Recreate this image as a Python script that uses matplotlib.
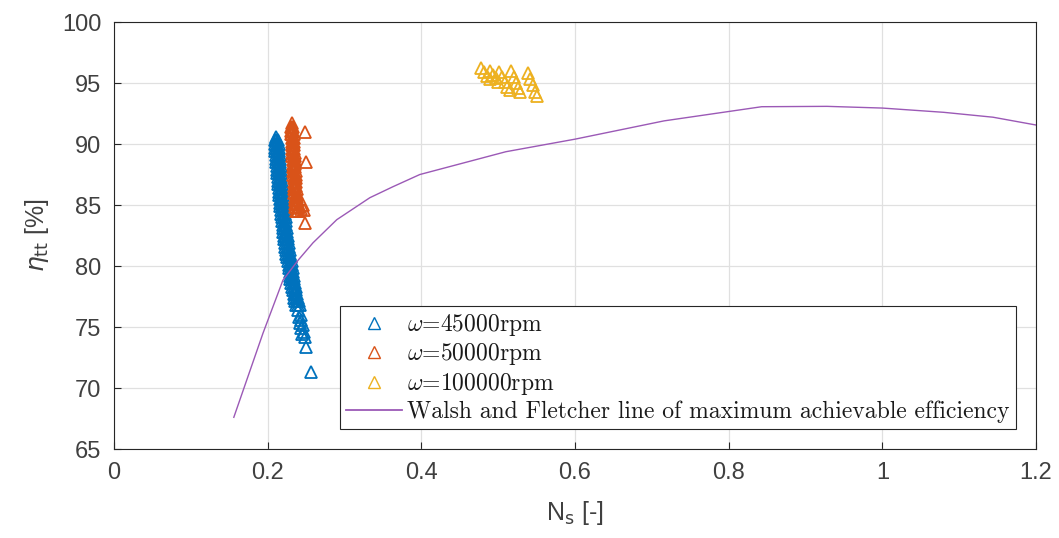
import numpy as np
import matplotlib
matplotlib.use("Agg")
import matplotlib.pyplot as plt
from matplotlib.font_manager import FontProperties
from matplotlib.lines import Line2D

# =========================
# data
# =========================

# omega = 45000 rpm : (Ns, eta_tt)
blue_points = [
    (0.2110, 90.6),
    (0.2090, 90.3), (0.2115, 90.3), (0.2140, 90.3),
    (0.2095, 90.0), (0.2120, 90.0), (0.2145, 90.0),
    (0.2098, 89.7), (0.2123, 89.7), (0.2148, 89.7),
    (0.2102, 89.4), (0.2127, 89.4), (0.2152, 89.4),
    (0.2105, 89.1), (0.2130, 89.1), (0.2155, 89.1),
    (0.2110, 88.8), (0.2135, 88.8), (0.2160, 88.8),
    (0.2115, 88.5), (0.2140, 88.5), (0.2165, 88.5),
    (0.2118, 88.2), (0.2143, 88.2), (0.2168, 88.2),
    (0.2122, 87.9), (0.2147, 87.9), (0.2172, 87.9),
    (0.2125, 87.6), (0.2150, 87.6), (0.2175, 87.6),
    (0.2130, 87.3), (0.2155, 87.3), (0.2180, 87.3),
    (0.2135, 87.0), (0.2160, 87.0), (0.2185, 87.0),
    (0.2138, 86.7), (0.2163, 86.7), (0.2188, 86.7),
    (0.2143, 86.4), (0.2168, 86.4), (0.2193, 86.4),
    (0.2148, 86.1), (0.2173, 86.1), (0.2198, 86.1),
    (0.2152, 85.8), (0.2177, 85.8), (0.2202, 85.8),
    (0.2155, 85.5), (0.2180, 85.5), (0.2205, 85.5),
    (0.2161, 85.2), (0.2186, 85.2), (0.2211, 85.2),
    (0.2167, 84.9), (0.2192, 84.9), (0.2217, 84.9),
    (0.2173, 84.6), (0.2198, 84.6), (0.2223, 84.6),
    (0.2179, 84.3), (0.2204, 84.3), (0.2229, 84.3),
    (0.2185, 84.0), (0.2210, 84.0), (0.2235, 84.0),
    (0.2191, 83.7), (0.2216, 83.7), (0.2241, 83.7),
    (0.2195, 83.4), (0.2220, 83.4), (0.2245, 83.4),
    (0.2199, 83.1), (0.2224, 83.1), (0.2249, 83.1),
    (0.2205, 82.8), (0.2230, 82.8), (0.2255, 82.8),
    (0.2210, 82.5), (0.2235, 82.5), (0.2260, 82.5),
    (0.2216, 82.2), (0.2241, 82.2), (0.2266, 82.2),
    (0.2222, 81.9), (0.2247, 81.9), (0.2272, 81.9),
    (0.2228, 81.6), (0.2253, 81.6), (0.2278, 81.6),
    (0.2236, 81.3), (0.2261, 81.3), (0.2286, 81.3),
    (0.2245, 81.0), (0.2270, 81.0), (0.2295, 81.0),
    (0.2255, 80.7), (0.2280, 80.7), (0.2305, 80.7),
    (0.2264, 80.4), (0.2289, 80.4), (0.2314, 80.4),
    (0.2272, 80.1), (0.2297, 80.1), (0.2322, 80.1),
    (0.2279, 79.8), (0.2304, 79.8), (0.2329, 79.8),
    (0.2285, 79.5), (0.2310, 79.5), (0.2335, 79.5),
    (0.2291, 79.2), (0.2316, 79.2), (0.2341, 79.2),
    (0.2297, 78.9), (0.2322, 78.9), (0.2347, 78.9),
    (0.2305, 78.6), (0.2330, 78.6), (0.2355, 78.6),
    (0.2315, 78.3), (0.2340, 78.3), (0.2365, 78.3),
    (0.2325, 78.0), (0.2350, 78.0), (0.2375, 78.0),
    (0.2337, 77.7), (0.2362, 77.7), (0.2387, 77.7),
    (0.2349, 77.4), (0.2374, 77.4), (0.2399, 77.4),
    (0.2361, 77.1), (0.2386, 77.1), (0.2411, 77.1),
    (0.2369, 76.8), (0.2394, 76.8), (0.2419, 76.8),
    (0.2400, 76.4), (0.2430, 76.0), (0.2405, 75.8),
    (0.2440, 75.6), (0.2420, 75.3), (0.2460, 75.2),
    (0.2440, 74.9), (0.2470, 74.6), (0.2450, 74.4),
    (0.2490, 74.2), (0.2495, 73.4), (0.2570, 71.3),
]

# omega = 50000 rpm
orange_points = [
    (0.2315, 91.7),
    (0.2303, 91.4), (0.2318, 91.4), (0.2333, 91.4),
    (0.2306, 91.1), (0.2321, 91.1), (0.2336, 91.1),
    (0.2308, 90.8), (0.2323, 90.8), (0.2338, 90.8),
    (0.2311, 90.5), (0.2326, 90.5), (0.2341, 90.5),
    (0.2313, 90.2), (0.2328, 90.2), (0.2343, 90.2),
    (0.2316, 89.9), (0.2331, 89.9), (0.2346, 89.9),
    (0.2318, 89.6), (0.2333, 89.6), (0.2348, 89.6),
    (0.2321, 89.3), (0.2336, 89.3), (0.2351, 89.3),
    (0.2323, 89.0), (0.2338, 89.0), (0.2353, 89.0),
    (0.2326, 88.7), (0.2341, 88.7), (0.2356, 88.7),
    (0.2328, 88.4), (0.2343, 88.4), (0.2358, 88.4),
    (0.2331, 88.1), (0.2346, 88.1), (0.2361, 88.1),
    (0.2333, 87.8), (0.2348, 87.8), (0.2363, 87.8),
    (0.2336, 87.5), (0.2351, 87.5), (0.2366, 87.5),
    (0.2338, 87.2), (0.2353, 87.2), (0.2368, 87.2),
    (0.2341, 86.9), (0.2356, 86.9), (0.2371, 86.9),
    (0.2343, 86.6), (0.2358, 86.6), (0.2373, 86.6),
    (0.2346, 86.3), (0.2361, 86.3), (0.2376, 86.3),
    (0.2348, 86.0), (0.2363, 86.0), (0.2378, 86.0),
    (0.2351, 85.7), (0.2366, 85.7), (0.2381, 85.7),
    (0.2353, 85.4), (0.2368, 85.4), (0.2383, 85.4),
    (0.2357, 85.1), (0.2372, 85.1), (0.2387, 85.1),
    (0.2360, 84.8), (0.2375, 84.8), (0.2390, 84.8), (0.2405, 84.8),
    (0.2370, 84.5), (0.2385, 84.5), (0.2400, 84.5),
    (0.2455, 85.0), (0.2435, 84.7), (0.2470, 84.6),
    (0.2485, 83.5), (0.2485, 91.0), (0.2505, 88.5),
]

# omega = 100000 rpm
yellow_points = [
    (0.478, 96.2), (0.482, 95.9), (0.486, 95.6), (0.490, 95.3),
    (0.489, 96.0), (0.493, 95.7), (0.497, 95.4), (0.500, 95.1),
    (0.501, 95.9), (0.505, 95.5), (0.509, 95.1), (0.512, 94.7), (0.516, 94.4),
    (0.517, 96.0), (0.520, 95.5), (0.523, 95.0), (0.526, 94.6), (0.528, 94.3),
    (0.539, 95.8), (0.542, 95.3), (0.545, 94.8), (0.548, 94.3), (0.550, 93.9),
]

# Walsh and Fletcher line
wf_ns = [0.156, 0.194, 0.220, 0.240, 0.259, 0.290, 0.333, 0.363, 0.398,
         0.51, 0.60, 0.716, 0.843, 0.928, 1.0, 1.08, 1.144, 1.2]
wf_eta = [67.6, 74.5, 78.85, 80.5, 81.9, 83.8, 85.6, 86.5, 87.5,
          89.37, 90.4, 91.9, 93.06, 93.09, 92.95, 92.6, 92.2, 91.56]

labels = [r"$\omega$=45000rpm", r"$\omega$=50000rpm", r"$\omega$=100000rpm",
          "Walsh and Fletcher line of maximum achievable efficiency"]
colors = ["#0072BD", "#D95319", "#EDB120"]
line_color = "#9B59B6"

xticks = [0, 0.2, 0.4, 0.6, 0.8, 1.0, 1.2]
xtick_labels = ["0", "0.2", "0.4", "0.6", "0.8", "1", "1.2"]
yticks = [65, 70, 75, 80, 85, 90, 95, 100]

# =========================
# figure
# =========================
tick_font = "Liberation Sans"
text_col = "#404040"
fig = plt.figure(figsize=(10.59, 5.38), dpi=100)
ax = fig.add_axes([0.1076, 0.1654, 0.8707, 0.7936])

for pts, c in zip([blue_points, orange_points, yellow_points], colors):
    arr = np.array(pts)
    ax.plot(arr[:, 0], arr[:, 1], linestyle="none", marker="^",
            markersize=9, markerfacecolor="none", markeredgecolor=c,
            markeredgewidth=1.3)

ax.plot(wf_ns, wf_eta, color=line_color, linewidth=1.0)

ax.set_xlim(0, 1.2)
ax.set_ylim(65, 100)
ax.set_xticks(xticks)
ax.set_xticklabels(xtick_labels)
ax.set_yticks(yticks)
ax.grid(True, color="#e0e0e0", linewidth=0.9)
ax.set_axisbelow(True)

for sp in ax.spines.values():
    sp.set_color("#262626")
    sp.set_linewidth(0.8)
ax.tick_params(direction="in", length=5, width=0.8, colors="#262626",
               labelsize=17, pad=9, top=False, right=False)
for lab in ax.get_xticklabels() + ax.get_yticklabels():
    lab.set_fontfamily(tick_font)
    lab.set_color(text_col)

ax.set_xlabel(r"N$_{\mathrm{s}}$ [-]", fontsize=18, family=tick_font,
              color=text_col, math_fontfamily="dejavusans", labelpad=11)
ax.set_ylabel(r"$\eta_{\mathrm{tt}}$ [%]", fontsize=18, family=tick_font,
              color=text_col, math_fontfamily="dejavusans", labelpad=8)

# legend
handles = [Line2D([], [], linestyle="none", marker="^", markersize=8,
                  markerfacecolor="none", markeredgecolor=c, markeredgewidth=1.0)
           for c in colors]
handles.append(Line2D([], [], color=line_color, linewidth=1.3))
leg_font = FontProperties(family="cmr10", size=17, math_fontfamily="cm")
leg = ax.legend(handles, labels, loc="upper left", bbox_to_anchor=(0.245, 0.335),
                borderaxespad=0, prop=leg_font, fancybox=False, framealpha=1,
                edgecolor="#262626", handlelength=2.4, handletextpad=0.2,
                labelspacing=0.15, borderpad=0.25)
leg.get_frame().set_linewidth(0.8)
for t in leg.get_texts():
    t.set_color("#1a1a1a")

fig.savefig("out.png", dpi=100)
